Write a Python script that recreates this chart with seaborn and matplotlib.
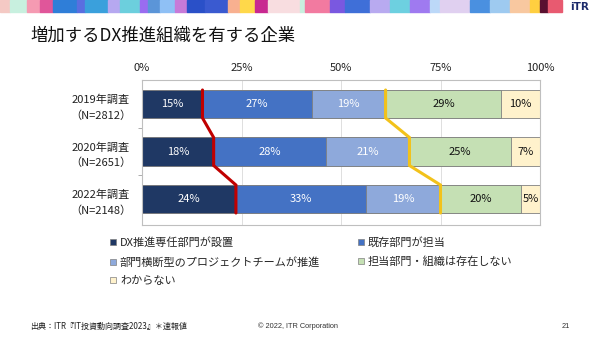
import numpy as np
import pandas as pd
import matplotlib
matplotlib.use("Agg")
import matplotlib.pyplot as plt
import seaborn as sns
from matplotlib.patches import Rectangle
from matplotlib.lines import Line2D

# ---------------- data ----------------
years = ["2019年調査\n（N=2812）", "2020年調査\n（N=2651）", "2022年調査\n（N=2148）"]
series_names = ["DX推進専任部門が設置", "既存部門が担当", "部門横断型のプロジェクトチームが推進",
                "担当部門・組織は存在しない", "わからない"]
dx_dedicated = [15.2, 18.0, 23.6]
existing_dept = [27.4, 28.3, 32.8]
cross_project = [18.6, 20.9, 18.6]
no_org = [29.1, 25.4, 20.2]
unknown = [9.7, 7.4, 4.8]
xticks = [0, 25, 50, 75, 100]
xtick_labels = ["0%", "25%", "50%", "75%", "100%"]

series_values = [dx_dedicated, existing_dept, cross_project, no_org, unknown]
colors = ["#1F3864", "#4472C4", "#8EA9DB", "#C5E0B4", "#FFF2CC"]
text_colors = ["white", "white", "white", "#111111", "#111111"]

sns.set_theme(style="white")
plt.rcParams["font.family"] = ["Noto Sans CJK JP", "DejaVu Sans"]

fig = plt.figure(figsize=(6, 3.37), dpi=100)
fig.patch.set_facecolor("white")

# decorative banner
banner = [(0, 10, "#F4C9C4"), (10, 27, "#C8F0DF"), (27, 40, "#F59AB2"), (40, 53, "#E0569A"),
          (53, 77, "#2F7ED8"), (77, 85, "#5A6EE0"), (85, 108, "#3AA0DC"), (108, 120, "#B6A8F0"),
          (120, 140, "#6CCFDD"), (140, 148, "#9A6CF0"), (148, 160, "#5B95D8"), (160, 175, "#8FC0F5"),
          (175, 187, "#C77AD8"), (187, 205, "#2A50C8"), (205, 228, "#3A5AD0"), (228, 240, "#F8B090"),
          (240, 255, "#FFD84A"), (255, 268, "#C82890"), (268, 300, "#F8DDE0"), (300, 305, "#C8F0DF"),
          (305, 330, "#F27AA0"), (330, 345, "#7A58E0"), (345, 370, "#3F6FD8"), (370, 390, "#B8AAF0"),
          (390, 410, "#6DD0E0"), (410, 430, "#9F7AF0"), (430, 440, "#BCD8F8"), (440, 470, "#E0D0F0"),
          (470, 490, "#4A90E0"), (490, 510, "#9ECAF0"), (510, 530, "#F8C8A0"), (530, 540, "#FFCF40"),
          (540, 548, "#5A1030"), (548, 562, "#E85A70")]
for x0, x1, c in banner:
    fig.patches.append(Rectangle((x0 / 600, 1 - 12 / 337), (x1 - x0) / 600, 12 / 337,
                                 transform=fig.transFigure, color=c, zorder=0))
fig.text(580 / 600, 1 - 7 / 337, "iTR", fontsize=7.5, fontweight="bold", color="#1B2A6B",
         ha="center", va="center", family=["DejaVu Sans"])

fig.text(30 / 600, 1 - 36 / 337, "増加するDX推進組織を有する企業", fontsize=12.5,
         ha="left", va="center", color="#111111")

ax = fig.add_axes([142 / 600, 1 - 225 / 337, 398 / 600, 145 / 337])

bar_h = 0.59
cums = np.cumsum(np.array(series_values), axis=0)
# overlay cumulative bars, largest first
for i in range(len(series_values) - 1, -1, -1):
    df = pd.DataFrame({"year": years, "cum": cums[i]})
    sns.barplot(data=df, x="cum", y="year", orient="h", color=colors[i], saturation=1,
                edgecolor="#808080", linewidth=0.6, width=bar_h, errorbar=None, ax=ax, zorder=2)

# segment labels
for i, vals in enumerate(series_values):
    for j, v in enumerate(vals):
        ax.text(cums[i][j] - v / 2, j, f"{v:.0f}%", ha="center", va="center",
                fontsize=8, color=text_colors[i], zorder=5)

# connector lines
for k, c in [(0, "#C00000"), (2, "#F2C21B")]:
    xs, ys = [], []
    for j in range(len(years)):
        xs += [cums[k][j], cums[k][j]]
        ys += [j - bar_h / 2, j + bar_h / 2]
    ax.plot(xs, ys, color=c, lw=2.2, zorder=6, solid_joinstyle="miter")

ax.set_xlim(0, 100)
ax.set_ylim(2.547, -0.505)
ax.set_xticks(xticks)
ax.set_xticklabels(xtick_labels)
ax.xaxis.tick_top()
ax.tick_params(axis="x", length=0, pad=5, labelsize=8, colors="#222222")
ax.set_xlabel("")
ax.set_ylabel("")
ax.set_yticks(range(len(years)))
ax.set_yticklabels(years)
ax.tick_params(axis="y", length=0, pad=29.5, labelsize=8, colors="#222222")
for t in ax.get_yticklabels():
    t.set_ha("center")
    t.set_multialignment("center")
    t.set_linespacing(1.6)
ax.set_yticks([0.5, 1.5], minor=True)
ax.tick_params(axis="y", which="minor", length=3, color="#A0A0A0", width=0.6, left=True)
ax.grid(axis="x", color="#D9D9D9", lw=0.6, zorder=0)
ax.set_axisbelow(True)
for s in ax.spines.values():
    s.set_color("#BFBFBF")
    s.set_linewidth(0.8)

# legend (row-major order)
handles = [Line2D([], [], marker="s", linestyle="", markersize=5, markerfacecolor=colors[i],
                  markeredgecolor="#808080", markeredgewidth=0.5) for i in range(5)]
order = [0, 2, 4, 1, 3]
fig.legend([handles[i] for i in order], [series_names[i] for i in order],
           loc="upper left", bbox_to_anchor=(110 / 600, 1 - 237 / 337), ncol=2,
           frameon=False, fontsize=8, handlelength=0.6, handletextpad=0.3,
           columnspacing=3.4, labelspacing=0.78, borderpad=0, borderaxespad=0)

# footer
fig.text(30 / 600, 1 - 326 / 337, "出典：ITR『IT投資動向調査2023』＊速報値", fontsize=5.8,
         ha="left", va="center", color="#222222")
fig.text(258 / 600, 1 - 326 / 337, "© 2022, ITR Corporation", fontsize=5.3,
         ha="left", va="center", color="#333333", family=["Liberation Sans"])
fig.text(566 / 600, 1 - 326 / 337, "21", fontsize=5.3, ha="center", va="center",
         color="#333333", family=["Liberation Sans"])

fig.savefig("out.png", dpi=100)
